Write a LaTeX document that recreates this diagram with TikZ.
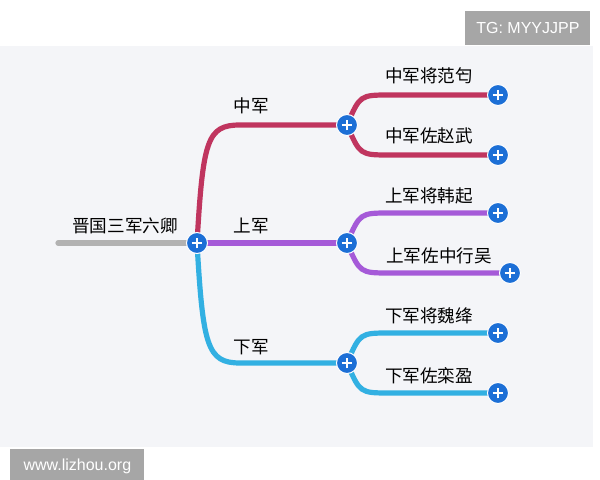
\documentclass[tikz,border=0pt]{standalone}
\usepackage{fontspec}
\newfontfamily\cjk{Noto Sans CJK SC}
\setmainfont{Liberation Sans}
\definecolor{redline}{HTML}{C0355F}
\definecolor{purpline}{HTML}{A55AD8}
\definecolor{blueline}{HTML}{32B0E2}
\definecolor{plusblue}{HTML}{1C6FD6}
\definecolor{panel}{HTML}{F4F5F8}
\tikzset{
  branch/.style={line width=2.6pt, line cap=round},
  plus/.style={circle, fill=plusblue, draw=white, line width=0.5pt, minimum size=10.5pt, inner sep=0pt,
    path picture={\draw[white, line width=1.4pt] ([xshift=-2.7pt]path picture bounding box.center) -- ([xshift=2.7pt]path picture bounding box.center);
      \draw[white, line width=1.4pt] ([yshift=-2.7pt]path picture bounding box.center) -- ([yshift=2.7pt]path picture bounding box.center);}},
  lbl/.style={font=\cjk\fontsize{8.8}{10}\selectfont, text=black},
  tag/.style={fill=black!35, text=white, font=\fontsize{8}{9}\selectfont, inner sep=0pt, minimum height=17pt, anchor=north west}
}
\begin{document}
\begin{tikzpicture}[x=0.5pt, y=-0.5pt]
\useasboundingbox (0,0) rectangle (600,480);
\fill[white] (0,0) rectangle (600,480);
\fill[panel] (0,46) rectangle (593,447);
\node[tag, minimum width=62.5pt] (tg) at (465,11) {TG: MYYJJPP};
\node[tag, minimum width=67pt] (site) at (10,449) {www.lizhou.org};

% anchors of the map
\coordinate (rootend) at (58,243);
\coordinate (root) at (197,243);
\coordinate (zj) at (347,125);
\coordinate (sj) at (347,243);
\coordinate (xj) at (347,363);
\coordinate (zj1) at (498,95);
\coordinate (zj2) at (498,155);
\coordinate (sj1) at (498,213);
\coordinate (sj2) at (510,273);
\coordinate (xj1) at (498,333);
\coordinate (xj2) at (498,393);

\draw[branch, black!30] (rootend) -- (root);
\draw[branch, redline] (root) .. controls (203,140) and (207,125) .. (240,125) -- (zj);
\draw[branch, purpline] (root) -- (sj);
\draw[branch, blueline] (root) .. controls (203,346) and (207,363) .. (240,363) -- (xj);
\draw[branch, redline] (zj) .. controls (360,95) .. (390,95) -- (zj1);
\draw[branch, redline] (zj) .. controls (360,155) .. (390,155) -- (zj2);
\draw[branch, purpline] (sj) .. controls (360,213) .. (390,213) -- (sj1);
\draw[branch, purpline] (sj) .. controls (360,273) .. (390,273) -- (sj2);
\draw[branch, blueline] (xj) .. controls (360,333) .. (390,333) -- (xj1);
\draw[branch, blueline] (xj) .. controls (360,393) .. (390,393) -- (xj2);
\foreach \n in {root,zj,sj,xj,zj1,zj2,sj1,sj2,xj1,xj2}
  \node[plus] (p\n) at (\n) {};

\node[lbl] (troot) at (125,226) {晋国三军六卿};
\node[lbl] (tzj) at (251,106) {中军};
\node[lbl] (tsj) at (251,226) {上军};
\node[lbl] (txj) at (251,347) {下军};
\node[lbl] (tzj1) at (429,76) {中军将范匄};
\node[lbl] (tzj2) at (429,136) {中军佐赵武};
\node[lbl] (tsj1) at (429,196) {上军将韩起};
\node[lbl] (tsj2) at (439,256) {上军佐中行吴};
\node[lbl] (txj1) at (429,316) {下军将魏绛};
\node[lbl] (txj2) at (429,376) {下军佐栾盈};
\end{tikzpicture}
\end{document}
